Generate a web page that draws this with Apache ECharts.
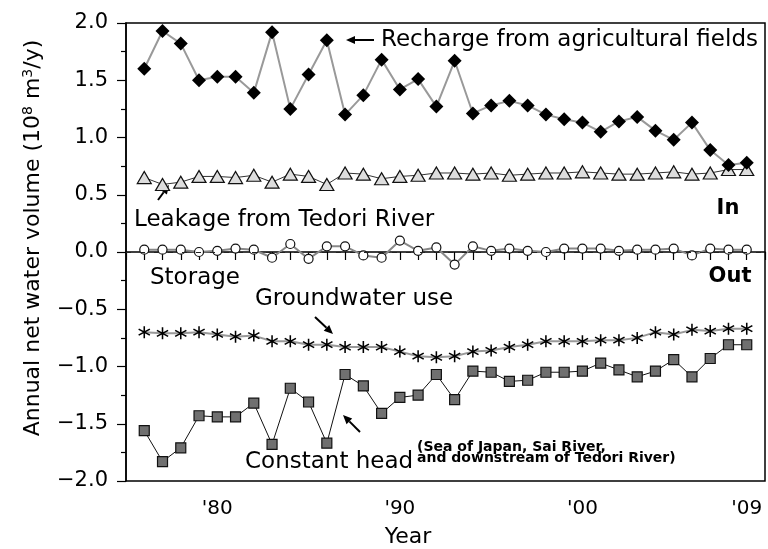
<!DOCTYPE html>
<html>
<head>
<meta charset="utf-8">
<script src="https://cdn.jsdelivr.net/npm/echarts@6/dist/echarts.min.js"></script>
<style>
html, body { margin: 0; padding: 0; background: #fff; }
#waterBudget { width: 768px; height: 549px; }
</style>
</head>
<body>
<div id="waterBudget"></div>
<script>
const years = [1976, 1977, 1978, 1979, 1980, 1981, 1982, 1983, 1984, 1985, 1986, 1987,
  1988, 1989, 1990, 1991, 1992, 1993, 1994, 1995, 1996, 1997, 1998, 1999, 2000,
  2001, 2002, 2003, 2004, 2005, 2006, 2007, 2008, 2009]
const rechargeData = [1.60, 1.93, 1.82, 1.50, 1.53, 1.53, 1.39, 1.92, 1.25, 1.55, 1.85, 1.20,
  1.37, 1.68, 1.42, 1.51, 1.27, 1.67, 1.21, 1.28, 1.32, 1.28, 1.20, 1.16, 1.13,
  1.05, 1.14, 1.18, 1.06, 0.98, 1.13, 0.89, 0.76, 0.78]
const leakageData = [0.65, 0.59, 0.61, 0.66, 0.66, 0.65, 0.67, 0.61, 0.68, 0.66, 0.59, 0.69,
  0.68, 0.64, 0.66, 0.67, 0.69, 0.69, 0.68, 0.69, 0.67, 0.68, 0.69, 0.69, 0.70,
  0.69, 0.68, 0.68, 0.69, 0.70, 0.68, 0.69, 0.72, 0.72]
const storageData = [0.02, 0.02, 0.02, 0.00, 0.01, 0.03, 0.02, -0.05, 0.07, -0.06, 0.05, 0.05,
  -0.03, -0.05, 0.10, 0.01, 0.04, -0.11, 0.05, 0.01, 0.03, 0.01, 0.00, 0.03, 0.03,
  0.03, 0.01, 0.02, 0.02, 0.03, -0.03, 0.03, 0.02, 0.02]
const groundwaterData = [-0.70, -0.71, -0.71, -0.70, -0.72, -0.74, -0.73, -0.78, -0.78, -0.81, -0.81, -0.83,
  -0.83, -0.83, -0.87, -0.91, -0.92, -0.91, -0.87, -0.86, -0.83, -0.81, -0.78, -0.78, -0.78,
  -0.77, -0.77, -0.75, -0.70, -0.72, -0.68, -0.69, -0.67, -0.67]
const constantHeadData = [-1.56, -1.83, -1.71, -1.43, -1.44, -1.44, -1.32, -1.68, -1.19, -1.31, -1.67, -1.07,
  -1.17, -1.41, -1.27, -1.25, -1.07, -1.29, -1.04, -1.05, -1.13, -1.12, -1.05, -1.05, -1.04,
  -0.97, -1.03, -1.09, -1.04, -0.94, -1.09, -0.93, -0.81, -0.81]
const yearLabels = { 1980: "'80", 1990: "'90", 2000: "'00", 2009: "'09" }

const FONT = 'DejaVu Sans, Liberation Sans, sans-serif'
// 6-arm asterisk marker
const asteriskPath = 'path://M-1.2,-10L1.2,-10L1.2,10L-1.2,10Z' +
  'M8.06,-6.04L9.26,-3.96L-8.06,6.04L-9.26,3.96Z' +
  'M-9.26,-3.96L-8.06,-6.04L9.26,3.96L8.06,6.04Z'

function pairs (values) {
  return years.map((y, i) => [y, values[i]])
}

function arrow (x1, y1, x2, y2) {
  // line from tail (x1,y1) to tip (x2,y2) with a filled head
  const ang = Math.atan2(y2 - y1, x2 - x1)
  const len = 9
  const w = 4
  const bx = x2 - len * Math.cos(ang)
  const by = y2 - len * Math.sin(ang)
  const px = -Math.sin(ang) * w
  const py = Math.cos(ang) * w
  return [
    { type: 'line', shape: { x1: x1, y1: y1, x2: bx, y2: by }, style: { stroke: '#000', lineWidth: 2 } },
    { type: 'polygon', shape: { points: [[x2, y2], [bx + px, by + py], [bx - px, by - py]] }, style: { fill: '#000' } }
  ]
}

function label (text, x, y, opts) {
  return {
    type: 'text',
    x: x,
    y: y,
    style: Object.assign({
      text: text,
      fontFamily: FONT,
      fontSize: 23,
      fill: '#000',
      align: 'left',
      verticalAlign: 'middle'
    }, opts || {})
  }
}

const chart = echarts.init(document.getElementById('waterBudget'))
const option = {
  animation: false,
  grid: {
    left: 126,
    right: 2,
    top: 23,
    bottom: 68,
    show: true,
    borderColor: '#000',
    borderWidth: 1.5,
    backgroundColor: 'transparent'
  },
  xAxis: {
    type: 'value',
    min: 1975,
    max: 2010,
    interval: 1,
    axisLine: { lineStyle: { color: '#000', width: 1.5 } },
    axisTick: { show: true, length: 8, lineStyle: { color: '#000', width: 1.2 } },
    splitLine: { show: false },
    axisLabel: {
      color: '#000',
      fontFamily: FONT,
      fontSize: 20,
      margin: 18,
      showMinLabel: true,
      showMaxLabel: true,
      formatter: function (v) { return yearLabels[v] || '' }
    }
  },
  yAxis: {
    type: 'value',
    min: -2,
    max: 2,
    interval: 0.5,
    axisLine: { show: true, lineStyle: { color: '#000', width: 1.5 } },
    axisTick: { show: true, length: 9, lineStyle: { color: '#000', width: 1.2 } },
    minorTick: { show: true, splitNumber: 2, length: 5, lineStyle: { color: '#000', width: 1.2 } },
    splitLine: { show: false },
    axisLabel: {
      color: '#000',
      fontFamily: FONT,
      fontSize: 21,
      margin: 18,
      formatter: function (v) { return (v < 0 ? '\u2212' : '') + Math.abs(v).toFixed(1) }
    }
  },
  series: [
    {
      name: 'Constant head',
      type: 'line',
      data: pairs(constantHeadData),
      symbol: 'rect',
      symbolSize: 10,
      lineStyle: { color: '#111', width: 1 },
      itemStyle: { color: '#707070', borderColor: '#111', borderWidth: 1.2 },
      z: 2
    },
    {
      name: 'Groundwater use',
      type: 'line',
      data: pairs(groundwaterData),
      symbol: asteriskPath,
      symbolSize: 12,
      lineStyle: { color: '#999', width: 2 },
      itemStyle: { color: '#000', borderWidth: 0 },
      z: 2
    },
    {
      name: 'Storage',
      type: 'line',
      data: pairs(storageData),
      symbol: 'circle',
      symbolSize: 9,
      lineStyle: { color: '#888', width: 2 },
      itemStyle: { color: '#fff', borderColor: '#111', borderWidth: 1.2 },
      markLine: {
        silent: true,
        symbol: 'none',
        label: { show: false },
        lineStyle: { color: '#222', width: 1.2, type: [5, 9] },
        data: [{ yAxis: 0 }]
      },
      z: 3
    },
    {
      name: 'Leakage from Tedori River',
      type: 'line',
      data: pairs(leakageData),
      symbol: 'triangle',
      symbolSize: [14, 12],
      lineStyle: { color: '#333', width: 1 },
      itemStyle: { color: '#ddd', borderColor: '#111', borderWidth: 1.2 },
      z: 3
    },
    {
      name: 'Recharge from agricultural fields',
      type: 'line',
      data: pairs(rechargeData),
      symbol: 'diamond',
      symbolSize: 14,
      lineStyle: { color: '#999', width: 2 },
      itemStyle: { color: '#000', borderColor: '#000', borderWidth: 0 },
      z: 4
    }
  ],
  graphic: [
    {
      type: 'text',
      x: 33,
      y: 238,
      rotation: Math.PI / 2,
      style: {
        text: 'Annual net water volume (10{sup|8} m{sup|3}/y)',
        fontFamily: FONT,
        fontSize: 22,
        fill: '#000',
        align: 'center',
        verticalAlign: 'middle',
        rich: {
          sup: { fontFamily: FONT, fontSize: 14, verticalAlign: 'top', padding: [0, 0, 9, 0] }
        }
      }
    },
    label('Year', 408, 537, { align: 'center', fontSize: 22 }),
    label('Recharge from agricultural fields', 381, 40),
    label('Leakage from Tedori River', 134, 220),
    label('In', 728, 209, { align: 'center', fontWeight: 'bold', fontSize: 21 }),
    label('Storage', 150, 278),
    label('Out', 730, 277, { align: 'center', fontWeight: 'bold', fontSize: 21 }),
    label('Groundwater use', 255, 299),
    label('Constant head', 245, 462),
    label('(Sea of Japan, Sai River,\nand downstream of Tedori River)', 417, 453, { fontSize: 14, fontWeight: 'bold', lineHeight: 11 })
  ]
    .concat(arrow(374, 40, 346, 40))
    .concat(arrow(158, 200, 169, 185))
    .concat(arrow(315, 317, 333, 334))
    .concat(arrow(360, 432, 343, 415))
}
chart.setOption(option)
</script>
</body>
</html>
